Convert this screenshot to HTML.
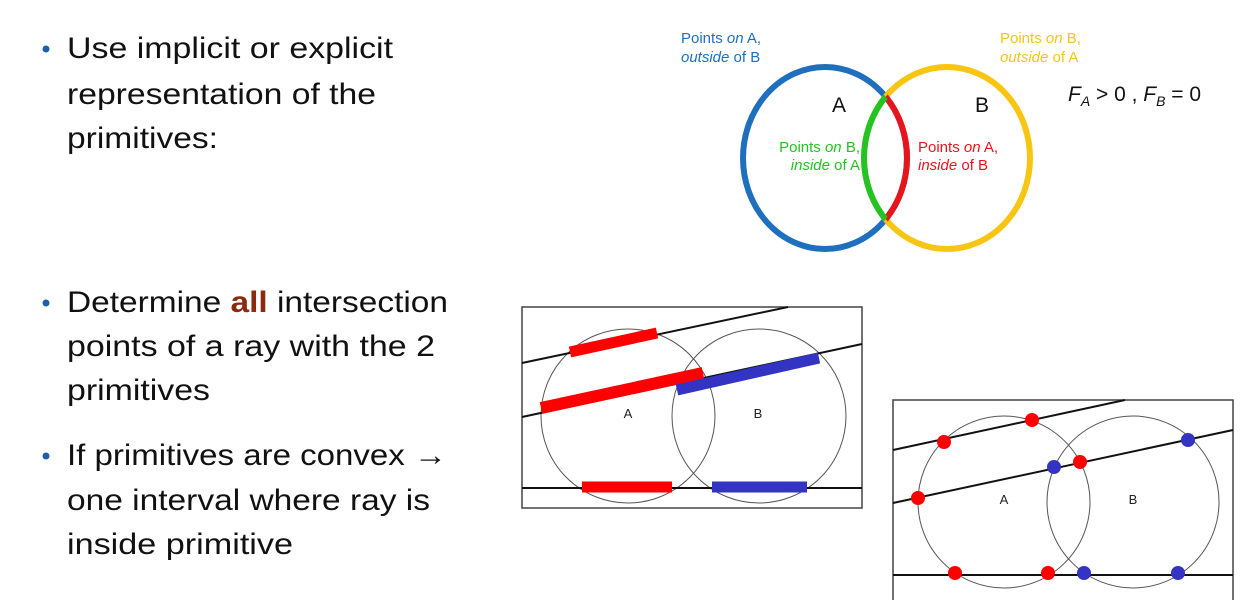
<!DOCTYPE html>
<html><head><meta charset="utf-8"><style>
html,body{margin:0;padding:0;background:#fff;}
svg{display:block;}
text{font-family:"Liberation Sans",sans-serif;}
</style></head><body>
<svg width="1256" height="600" viewBox="0 0 1256 600" xmlns="http://www.w3.org/2000/svg">
<g font-size="30" fill="#111">
<circle cx="46" cy="49" r="3.5" fill="#1f5fa8"/>
<text x="67" y="58" textLength="326" lengthAdjust="spacingAndGlyphs">Use implicit or explicit</text>
<text x="67" y="104" textLength="309" lengthAdjust="spacingAndGlyphs">representation of the</text>
<text x="67" y="148" textLength="151" lengthAdjust="spacingAndGlyphs">primitives:</text>
<circle cx="46" cy="303" r="3.5" fill="#1f5fa8"/>
<text x="67" y="312" textLength="381" lengthAdjust="spacingAndGlyphs">Determine <tspan fill="#8b2a0e" font-weight="bold">all</tspan> intersection</text>
<text x="67" y="356" textLength="368" lengthAdjust="spacingAndGlyphs">points of a ray with the 2</text>
<text x="67" y="400" textLength="143" lengthAdjust="spacingAndGlyphs">primitives</text>
<circle cx="46" cy="456" r="3.5" fill="#1f5fa8"/>
<text x="67" y="465" textLength="380" lengthAdjust="spacingAndGlyphs">If primitives are convex →</text>
<text x="67" y="510" textLength="363" lengthAdjust="spacingAndGlyphs">one interval where ray is</text>
<text x="67" y="554" textLength="226" lengthAdjust="spacingAndGlyphs">inside primitive</text>
</g>

<defs>
<clipPath id="inB"><ellipse cx="947" cy="158" rx="83" ry="91"/></clipPath>
<clipPath id="inA"><ellipse cx="825" cy="158" rx="82" ry="91"/></clipPath>
</defs>
<ellipse cx="825" cy="158" rx="82" ry="91" fill="none" stroke="#1f6fbf" stroke-width="6"/>
<ellipse cx="947" cy="158" rx="83" ry="91" fill="none" stroke="#f7c512" stroke-width="6"/>
<ellipse cx="825" cy="158" rx="82" ry="91" fill="none" stroke="#e8141c" stroke-width="6" clip-path="url(#inB)"/>
<ellipse cx="947" cy="158" rx="83" ry="91" fill="none" stroke="#22c322" stroke-width="6" clip-path="url(#inA)"/>
<g font-size="15">
<text x="681" y="43" fill="#1f6fbf">Points <tspan font-style="italic">on</tspan> A,</text>
<text x="681" y="62" fill="#1f6fbf"><tspan font-style="italic">outside</tspan> of B</text>
<text x="1000" y="43" fill="#f5c518">Points <tspan font-style="italic">on</tspan> B,</text>
<text x="1000" y="62" fill="#f5c518"><tspan font-style="italic">outside</tspan> of A</text>
<text x="860" y="152" fill="#22c322" text-anchor="end">Points <tspan font-style="italic">on</tspan> B,</text>
<text x="860" y="170" fill="#22c322" text-anchor="end"><tspan font-style="italic">inside</tspan> of A</text>
<text x="918" y="152" fill="#e8141c">Points <tspan font-style="italic">on</tspan> A,</text>
<text x="918" y="170" fill="#e8141c"><tspan font-style="italic">inside</tspan> of B</text>
</g>
<text x="832" y="112" font-size="21" fill="#111">A</text>
<text x="975" y="112" font-size="21" fill="#111">B</text>
<text x="1068" y="101" font-size="21" fill="#111"><tspan font-style="italic">F</tspan><tspan font-style="italic" font-size="14" dy="5">A</tspan><tspan dy="-5"> &gt; 0 , </tspan><tspan font-style="italic">F</tspan><tspan font-style="italic" font-size="14" dy="5">B</tspan><tspan dy="-5"> = 0</tspan></text>

<rect x="522" y="307" width="340" height="201" fill="none" stroke="#444" stroke-width="1.5"/>
<circle cx="628" cy="416" r="87" fill="none" stroke="#555" stroke-width="1"/>
<circle cx="759" cy="416" r="87" fill="none" stroke="#555" stroke-width="1"/>
<line x1="522" y1="363" x2="788" y2="307" stroke="#111" stroke-width="2"/>
<line x1="522" y1="417" x2="862" y2="344" stroke="#111" stroke-width="2"/>
<line x1="522" y1="488" x2="862" y2="488" stroke="#111" stroke-width="2"/>
<line x1="570" y1="352" x2="657" y2="333" stroke="#f00" stroke-width="11"/>
<line x1="541" y1="408" x2="703" y2="373" stroke="#f00" stroke-width="12"/>
<line x1="677" y1="390" x2="819" y2="358" stroke="#3333c4" stroke-width="11"/>
<line x1="582" y1="487" x2="672" y2="487" stroke="#f00" stroke-width="11"/>
<line x1="712" y1="487" x2="807" y2="487" stroke="#3333c4" stroke-width="11"/>
<text x="628" y="418" font-size="13" fill="#222" text-anchor="middle">A</text>
<text x="758" y="418" font-size="13" fill="#222" text-anchor="middle">B</text>

<rect x="893" y="400" width="340" height="210" fill="none" stroke="#444" stroke-width="1.5"/>
<circle cx="1004" cy="502" r="86" fill="none" stroke="#555" stroke-width="1"/>
<circle cx="1133" cy="502" r="86" fill="none" stroke="#555" stroke-width="1"/>
<line x1="893" y1="450" x2="1125" y2="400" stroke="#111" stroke-width="2"/>
<line x1="893" y1="503" x2="1233" y2="430" stroke="#111" stroke-width="2"/>
<line x1="893" y1="575" x2="1233" y2="575" stroke="#111" stroke-width="2"/>
<g fill="#f00">
<circle cx="944" cy="442" r="7"/><circle cx="1032" cy="420" r="7"/><circle cx="918" cy="498" r="7"/>
<circle cx="1080" cy="462" r="7"/><circle cx="955" cy="573" r="7"/><circle cx="1048" cy="573" r="7"/>
</g>
<g fill="#3333c4">
<circle cx="1054" cy="467" r="7"/><circle cx="1188" cy="440" r="7"/>
<circle cx="1084" cy="573" r="7"/><circle cx="1178" cy="573" r="7"/>
</g>
<text x="1004" y="504" font-size="13" fill="#222" text-anchor="middle">A</text>
<text x="1133" y="504" font-size="13" fill="#222" text-anchor="middle">B</text>
</svg>
</body></html>
